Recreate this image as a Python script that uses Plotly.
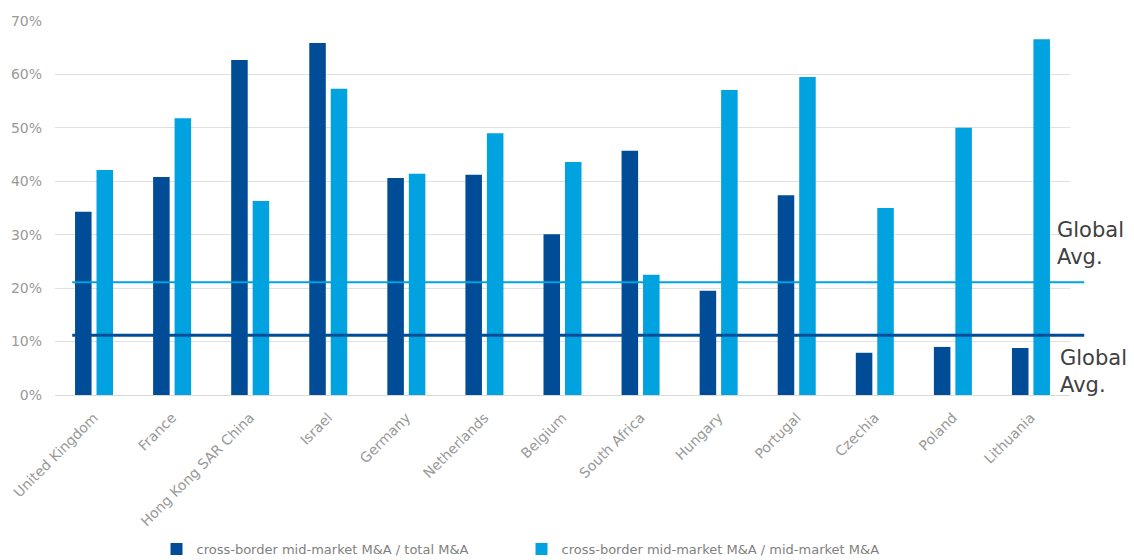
import plotly.graph_objects as go

countries = ["United Kingdom", "France", "Hong Kong SAR China", "Israel", "Germany",
             "Netherlands", "Belgium", "South Africa", "Hungary", "Portugal",
             "Czechia", "Poland", "Lithuania"]
share_total = [34.3, 40.8, 62.7, 65.9, 40.6, 41.2, 30.1, 45.7, 19.5, 37.4, 7.9, 9.0, 8.8]
share_mid = [42.1, 51.8, 36.3, 57.3, 41.4, 49.0, 43.6, 22.5, 57.1, 59.5, 35.0, 50.0, 66.6]
global_avg_total = 11.2
global_avg_mid = 21.1
series_names = ["cross-border mid-market M&A / total M&A",
                "cross-border mid-market M&A / mid-market M&A"]

DARK = "#004C97"
LIGHT = "#00A3E0"
FONT = "DejaVu Sans"

fig = go.Figure()
fig.add_trace(go.Bar(x=countries, y=[v / 100 for v in share_total], name=series_names[0],
                     marker=dict(color=DARK, line=dict(width=0))))
fig.add_trace(go.Bar(x=countries, y=[v / 100 for v in share_mid], name=series_names[1],
                     marker=dict(color=LIGHT, line=dict(width=0))))

fig.add_shape(type="line", xref="paper", yref="y", x0=0.017, x1=1.014,
              y0=global_avg_mid / 100, y1=global_avg_mid / 100,
              line=dict(color=LIGHT, width=2), layer="above")
fig.add_shape(type="line", xref="paper", yref="y", x0=0.017, x1=1.014,
              y0=global_avg_total / 100, y1=global_avg_total / 100,
              line=dict(color=DARK, width=3), layer="above")

fig.add_annotation(xref="paper", yref="y", x=0.985, y=global_avg_mid / 100 + 0.022,
                   text="Global<br>Avg.", showarrow=False, xanchor="left", yanchor="bottom",
                   align="left", font=dict(family=FONT, size=21, color="#404040"))
fig.add_annotation(xref="paper", yref="y", x=0.988, y=global_avg_total / 100 - 0.016,
                   text="Global<br>Avg.", showarrow=False, xanchor="left", yanchor="top",
                   align="left", font=dict(family=FONT, size=21, color="#404040"))

fig.update_layout(
    width=1126, height=552,
    margin=dict(l=47, r=64, t=13, b=165, autoexpand=False),
    paper_bgcolor="white", plot_bgcolor="white",
    barmode="group", bargap=0.45, bargroupgap=0.23,
    font=dict(family=FONT, color="#8c8c8c"),
    showlegend=True,
    legend=dict(orientation="h", x=0.100, xanchor="left", y=-0.412, yanchor="middle",
                font=dict(family=FONT, size=13, color="#7f7f7f"),
                entrywidth=320, itemwidth=30),
)
fig.update_xaxes(tickangle=-45, tickfont=dict(family=FONT, size=14, color="#999999"),
                 showgrid=False, showline=True, linecolor="#d9d9d9", linewidth=1,
                 ticks="", ticklabelstandoff=8, automargin=False)
fig.update_yaxes(range=[0, 0.7], dtick=0.1, tickformat=".0%",
                 tickfont=dict(family=FONT, size=14, color="#999999"),
                 showgrid=True, gridcolor="#e0e0e0", gridwidth=1, zeroline=False,
                 showline=False, ticks="", ticklabelstandoff=12, automargin=False)

fig.write_html("out.html")
